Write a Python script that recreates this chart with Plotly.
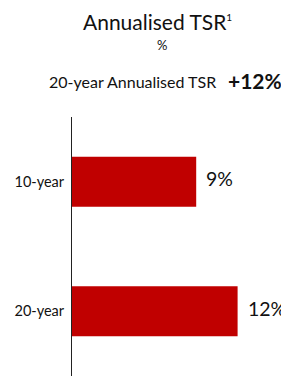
import plotly.graph_objects as go

categories = ["10-year", "20-year"]
values = [9, 12]
value_labels = ["9%", "12%"]
title_text = "Annualised TSR<sup><span style='font-size:10px'>1</span></sup>"
unit_text = "%"
headline_label = "20-year Annualised TSR"
headline_value = "+12%"

# the page body adds an 8px margin, so the figure sits at (8, 8) in the window
OFF = 8
W, H = 289 - OFF, 376 - OFF
L, T = 72 - OFF, 117 - OFF
PW, PH = W - L, H - T

def px_x(px):
    return (px - OFF - L) / PW

def px_y(py):
    return 1 - (py - OFF - T) / PH

FONT = "Lato"
RED = "#C00000"
INK = "#111111"

fig = go.Figure(go.Bar(
    y=categories, x=values, orientation="h",
    marker=dict(color=RED, line=dict(width=0)),
    width=0.386, hoverinfo="skip",
))

annotations = []
for c, v, lab in zip(categories, values, value_labels):
    annotations.append(dict(x=v, y=c, xref="x", yref="y", text=lab, showarrow=False,
                            xanchor="left", yanchor="middle", xshift=8, yshift=3,
                            font=dict(family=FONT, size=19.5, color=INK)))
annotations += [
    dict(x=px_x(157), y=px_y(21), xref="paper", yref="paper", text=title_text, showarrow=False,
         xanchor="center", yanchor="middle", borderpad=0, font=dict(family=FONT, size=21, color=INK)),
    dict(x=px_x(162), y=px_y(45), xref="paper", yref="paper", text=unit_text, showarrow=False,
         xanchor="center", yanchor="middle", font=dict(family=FONT, size=13, color=INK)),
    dict(x=px_x(218), y=px_y(81), xref="paper", yref="paper", text=headline_label, showarrow=False,
         xanchor="right", yanchor="middle", font=dict(family=FONT, size=16, color=INK)),
    dict(x=px_x(226), y=px_y(80), xref="paper", yref="paper", text="<b>" + headline_value + "</b>",
         showarrow=False, xanchor="left", yanchor="middle", font=dict(family=FONT, size=21, color=INK)),
]

fig.update_layout(
    width=W, height=H,
    margin=dict(l=L, r=0, t=T, b=0, autoexpand=False),
    paper_bgcolor="white", plot_bgcolor="white",
    showlegend=False,
    annotations=annotations,
    xaxis=dict(range=[0, PW / 13.8], visible=False, fixedrange=True, automargin=False),
    yaxis=dict(range=[1.5, -0.5], showline=True, linecolor="#222222", linewidth=1,
               ticks="", showgrid=False, zeroline=False, automargin=False,
               tickfont=dict(family=FONT, size=14.5, color=INK), ticklabelstandoff=4,
               fixedrange=True),
)

fig.write_html("out.html")
